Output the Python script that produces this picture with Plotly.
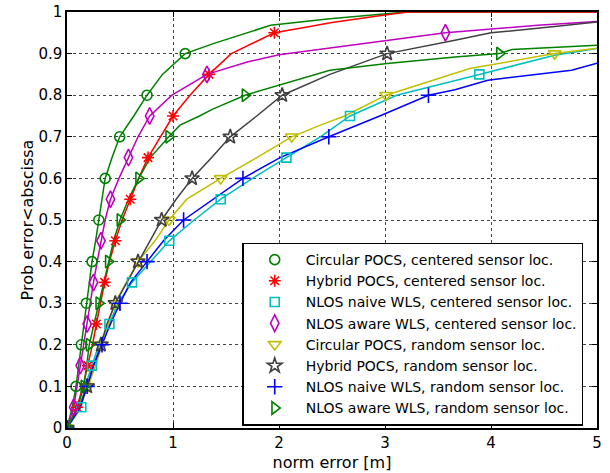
import plotly.graph_objects as go

# ---------------- data ----------------
names = [
    "Circular POCS, centered sensor loc.",
    "Hybrid POCS, centered sensor loc.",
    "NLOS naive WLS, centered sensor loc.",
    "NLOS aware WLS, centered sensor loc.",
    "Circular POCS, random sensor loc.",
    "Hybrid POCS, random sensor loc.",
    "NLOS naive WLS, random sensor loc.",
    "NLOS aware WLS, random sensor loc.",
]

circ_c_x = [0, 0.05, 0.085, 0.11, 0.135, 0.16, 0.182, 0.21, 0.236, 0.27, 0.30, 0.325, 0.36, 0.425,
            0.497, 0.63, 0.755, 0.90, 1.115, 1.38, 1.70, 1.92, 2.48, 2.98, 3.2, 5.0]
circ_c_y = [0, 0.05, 0.1, 0.15, 0.2, 0.25, 0.3, 0.35, 0.4, 0.45, 0.5, 0.55, 0.6, 0.65,
            0.7, 0.75, 0.8, 0.85, 0.9, 0.924, 0.95, 0.968, 0.984, 0.996, 1.0, 1.0]

hyb_c_x = [0, 0.094, 0.15, 0.198, 0.24, 0.277, 0.315, 0.355, 0.40, 0.456, 0.52, 0.597, 0.676, 0.764,
           0.88, 1.0, 1.16, 1.34, 1.55, 1.956, 2.2, 2.5, 2.98, 3.22, 5.0]
hyb_c_y = [0, 0.05, 0.1, 0.15, 0.2, 0.25, 0.3, 0.35, 0.4, 0.45, 0.5, 0.55, 0.6, 0.65,
           0.7, 0.75, 0.8, 0.85, 0.9, 0.95, 0.961, 0.975, 0.992, 1.0, 1.0]

naive_c_x = [0, 0.135, 0.17, 0.236, 0.30, 0.40, 0.48, 0.613, 0.79, 0.965, 1.20, 1.45, 1.75, 2.07,
             2.39, 2.67, 3.11, 3.89, 4.6, 5.0]
naive_c_y = [0, 0.05, 0.1, 0.15, 0.2, 0.25, 0.3, 0.35, 0.4, 0.45, 0.5, 0.55, 0.6, 0.65,
             0.7, 0.75, 0.8, 0.85, 0.896, 0.912]

aware_c_x = [0, 0.063, 0.095, 0.125, 0.16, 0.19, 0.22, 0.25, 0.285, 0.32, 0.36, 0.41, 0.49, 0.58,
             0.67, 0.78, 0.99, 1.32, 1.70, 2.0, 2.48, 3.57, 4.44, 5.0]
aware_c_y = [0, 0.05, 0.1, 0.15, 0.2, 0.25, 0.3, 0.35, 0.4, 0.45, 0.5, 0.55, 0.6, 0.65,
             0.7, 0.75, 0.8, 0.85, 0.88, 0.897, 0.913, 0.95, 0.968, 0.977]

circ_r_x = [0, 0.12, 0.198, 0.27, 0.33, 0.39, 0.45, 0.56, 0.67, 0.83, 0.962, 1.13, 1.45, 1.79,
            2.12, 2.39, 2.62, 3.01, 3.64, 3.8, 4.6, 5.0]
circ_r_y = [0, 0.05, 0.1, 0.15, 0.2, 0.25, 0.3, 0.35, 0.4, 0.45, 0.5, 0.55, 0.6, 0.65,
            0.7, 0.728, 0.75, 0.8, 0.85, 0.864, 0.9, 0.913]

hyb_r_x = [0, 0.11, 0.19, 0.25, 0.32, 0.377, 0.456, 0.566, 0.67, 0.78, 0.893, 1.03, 1.18, 1.365,
           1.54, 1.79, 2.03, 2.48, 3.02, 3.66, 4.0, 4.6, 5.0]
hyb_r_y = [0, 0.05, 0.1, 0.15, 0.2, 0.25, 0.3, 0.35, 0.4, 0.45, 0.5, 0.55, 0.6, 0.65,
           0.7, 0.75, 0.8, 0.85, 0.9, 0.932, 0.95, 0.965, 0.976]

naive_r_x = [0, 0.125, 0.19, 0.25, 0.33, 0.41, 0.50, 0.60, 0.755, 0.91, 1.10, 1.38, 1.66, 2.01,
             2.47, 2.95, 3.41, 3.66, 3.97, 4.76, 5.0]
naive_r_y = [0, 0.05, 0.1, 0.15, 0.2, 0.25, 0.3, 0.35, 0.4, 0.45, 0.5, 0.55, 0.6, 0.65,
             0.7, 0.75, 0.8, 0.813, 0.836, 0.86, 0.877]

aware_r_x = [0, 0.10, 0.16, 0.185, 0.21, 0.255, 0.30, 0.345, 0.39, 0.44, 0.50, 0.58, 0.676, 0.786,
             0.96, 1.066, 1.25, 1.37, 1.68, 2.35, 2.48, 3.02, 3.66, 4.08, 4.2, 5.0]
aware_r_y = [0, 0.05, 0.1, 0.15, 0.2, 0.25, 0.3, 0.35, 0.4, 0.45, 0.5, 0.55, 0.6, 0.65,
             0.7, 0.728, 0.75, 0.766, 0.8, 0.85, 0.86, 0.876, 0.892, 0.9, 0.91, 0.92]

xs = [circ_c_x, hyb_c_x, naive_c_x, aware_c_x, circ_r_x, hyb_r_x, naive_r_x, aware_r_x]
ys = [circ_c_y, hyb_c_y, naive_c_y, aware_c_y, circ_r_y, hyb_r_y, naive_r_y, aware_r_y]

y_ticks = [0, 0.1, 0.2, 0.3, 0.4, 0.5, 0.6, 0.7, 0.8, 0.9, 1]
y_tick_labels = ["0", "0.1", "0.2", "0.3", "0.4", "0.5", "0.6", "0.7", "0.8", "0.9", "1"]
x_ticks = [0, 1, 2, 3, 4, 5]
x_tick_labels = ["0", "1", "2", "3", "4", "5"]

# ---------------- styles ----------------
colors = ["#008000", "#ff0000", "#00bfbf", "#bf00bf", "#bfbf00", "#404040", "#0000ff", "#008000"]
symbols = ["circle-open", "asterisk-open", "square-open", "diamond-tall-open",
           "triangle-down-open", "star-open", "cross-thin-open", "triangle-right-open"]
sizes = [10, 10, 9, 12, 11, 11, 11, 11]
odd_levels = [False, True, True, True, False, False, False, False]

fig = go.Figure()
for i in range(8):
    fig.add_trace(go.Scatter(x=xs[i], y=ys[i], mode="lines",
                             line=dict(color=colors[i], width=1.5),
                             showlegend=False, hoverinfo="skip"))
for i in range(8):
    mx, my = [], []
    for xv, yv in zip(xs[i], ys[i]):
        k = yv * 20
        if abs(k - round(k)) < 1e-9 and yv < 1:
            k = int(round(k))
            if (odd_levels[i] and k % 2 == 1) or (not odd_levels[i] and k % 2 == 0):
                mx.append(xv)
                my.append(yv)
    fig.add_trace(go.Scatter(x=mx, y=my, mode="markers", name=names[i],
                             marker=dict(symbol=symbols[i], size=sizes[i], color=colors[i],
                                         line=dict(color=colors[i], width=1.6))))

FONT = "DejaVu Sans, Liberation Sans, Arial, sans-serif"
axis_common = dict(showline=True, mirror="ticks", linecolor="black", linewidth=1.5,
                   ticks="inside", ticklen=5, tickcolor="black",
                   showgrid=True, gridcolor="#444444", griddash="dot", gridwidth=1,
                   zeroline=False, automargin=False,
                   tickfont=dict(size=15, color="black", family=FONT))

fig.update_layout(
    width=610, height=473,
    margin=dict(l=67, r=13, t=12, b=45),
    paper_bgcolor="white", plot_bgcolor="white",
    font=dict(family=FONT, color="black"),
    xaxis=dict(range=[0, 5], tickvals=x_ticks, ticktext=x_tick_labels,
               title=dict(text="norm error [m]", font=dict(size=16), standoff=6),
               **axis_common),
    yaxis=dict(range=[0, 1], tickvals=y_ticks, ticktext=y_tick_labels,
               title=dict(text="Prob error<abscissa", font=dict(size=16), standoff=1),
               **axis_common),
    legend=dict(x=0.974, xanchor="right", y=0.006, yanchor="bottom",
                bgcolor="white", bordercolor="black", borderwidth=1.5,
                font=dict(size=14, color="black", family=FONT), itemwidth=52,
                tracegroupgap=0),
)

fig.write_html("out.html", config={"displayModeBar": False},
               post_script="document.body.style.margin='0';document.body.style.padding='0';")
